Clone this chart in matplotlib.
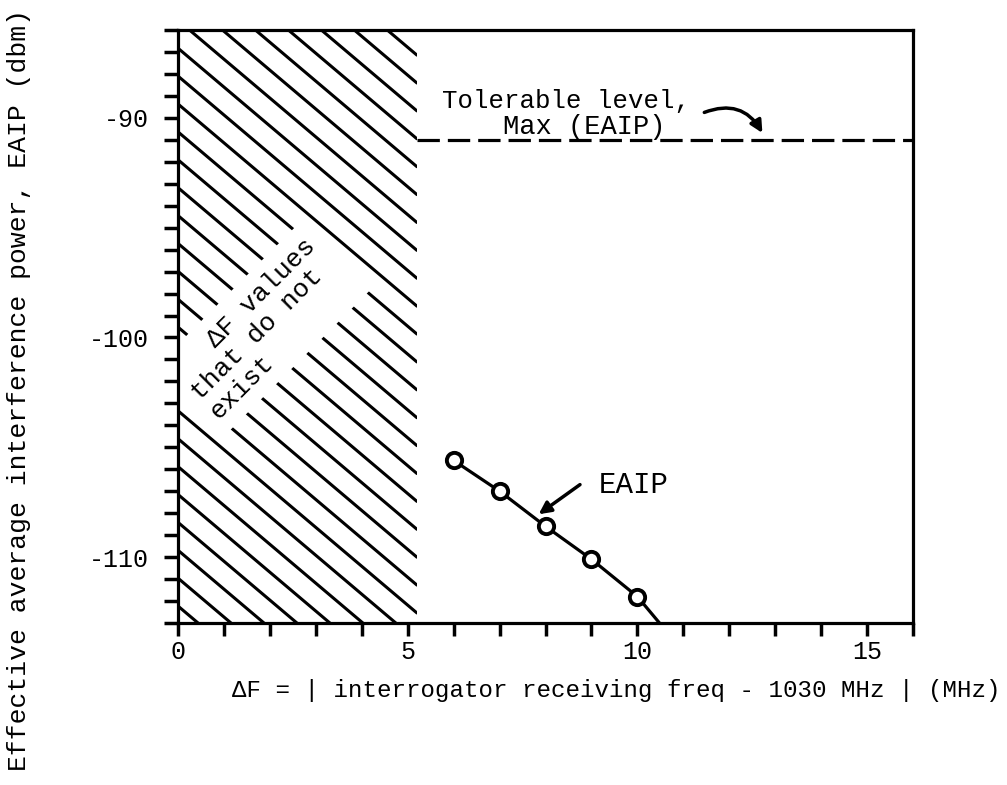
import numpy as np
import matplotlib
matplotlib.use("Agg")
import matplotlib.pyplot as plt
from matplotlib.patches import Rectangle

# data
eaip_x = [6, 7, 8, 9, 10]
eaip_y = [-105.6, -107.0, -108.6, -110.1, -111.8]
tail_x = [10, 10.6]          # line keeps going past last point to the axis
tail_y = [-111.8, -113.3]
tolerable_level = -91.0
no_df_limit = 5.2            # right edge of the hatched zone
x_major = [0, 5, 10, 15]
y_major = [-90, -100, -110]

mono = "Liberation Mono"

fig = plt.figure(figsize=(10.07, 7.85), dpi=100)
ax = fig.add_axes([0.1768, 0.2064, 0.7299, 0.7554])
ax.set_xlim(0, 16)
ax.set_ylim(-113, -86)

# hatched region (hand drawn diagonals in the original)
clip = Rectangle((0, -113), no_df_limit, 27, transform=ax.transData,
                 facecolor="none", edgecolor="none")
ax.add_patch(clip)
slope = 1.77
xx = np.array([0, no_df_limit])
for c in np.arange(-113.5, -86 + slope * no_df_limit + 1, 1.27):
    ln, = ax.plot(xx, c - slope * xx, color="black", lw=2.2,
                  solid_capstyle="round", zorder=1)
    ln.set_clip_path(clip)

ax.text(1.84, -99.6, "   \u0394F values\nthat do not\nexist", rotation=45,
        ha="center", va="center", multialignment="left", fontsize=19,
        family=mono, linespacing=1.12, zorder=2, clip_on=True,
        bbox=dict(boxstyle="square,pad=0.4", fc="white", ec="none"))

# tolerable level
ax.plot([no_df_limit, 16], [tolerable_level, tolerable_level], color="black",
        lw=2.3, dashes=(7, 2.5), zorder=2)
ax.text(8.45, -89.25, "Tolerable level,", ha="center", va="center",
        fontsize=18.5, family=mono)
ax.text(8.85, -90.4, "Max (EAIP)", ha="center", va="center",
        fontsize=19.5, family=mono)
ax.annotate("", xy=(12.75, -90.8), xytext=(11.4, -89.8),
            arrowprops=dict(arrowstyle="-|>", lw=2.5, color="black",
                            mutation_scale=18,
                            connectionstyle="arc3,rad=-0.45"))

# EAIP curve
ax.plot(tail_x, tail_y, color="black", lw=2.3, zorder=4)
ax.plot(eaip_x, eaip_y, color="black", lw=2.3, marker="o", markersize=11,
        mfc="white", mec="black", mew=2.8, zorder=5)
ax.text(9.15, -106.7, "EAIP", fontsize=21, family=mono, va="center",
        ha="left")
ax.annotate("", xy=(7.85, -108.05), xytext=(8.75, -106.7),
            arrowprops=dict(arrowstyle="-|>", lw=2.5, color="black",
                            mutation_scale=18, shrinkA=0, shrinkB=0))

# axes styling
for s in ax.spines.values():
    s.set_linewidth(2.3)
ax.set_xticks(x_major)
ax.set_xticks(np.arange(0, 17, 1), minor=True)
ax.set_yticks(y_major)
ax.set_yticks(np.arange(-113, -85, 1), minor=True)
ax.set_yticklabels([str(v) for v in y_major])
ax.tick_params(axis="x", which="both", direction="out", length=9, width=2.5,
               pad=3, labelsize=18)
ax.tick_params(axis="y", which="both", direction="out", length=10, width=2.5,
               pad=11, labelsize=18)
for lab in ax.get_xticklabels() + ax.get_yticklabels():
    lab.set_family(mono)

fig.text(0.612, 0.121,
         "\u0394F = | interrogator receiving freq - 1030 MHz | (MHz)",
         ha="center", va="center", fontsize=17.4, family=mono)
fig.text(0.019, 0.503,
         "Effective average interference power, EAIP (dbm)",
         rotation=90, ha="center", va="center", fontsize=19, family=mono)

fig.savefig("out.png", dpi=100)
